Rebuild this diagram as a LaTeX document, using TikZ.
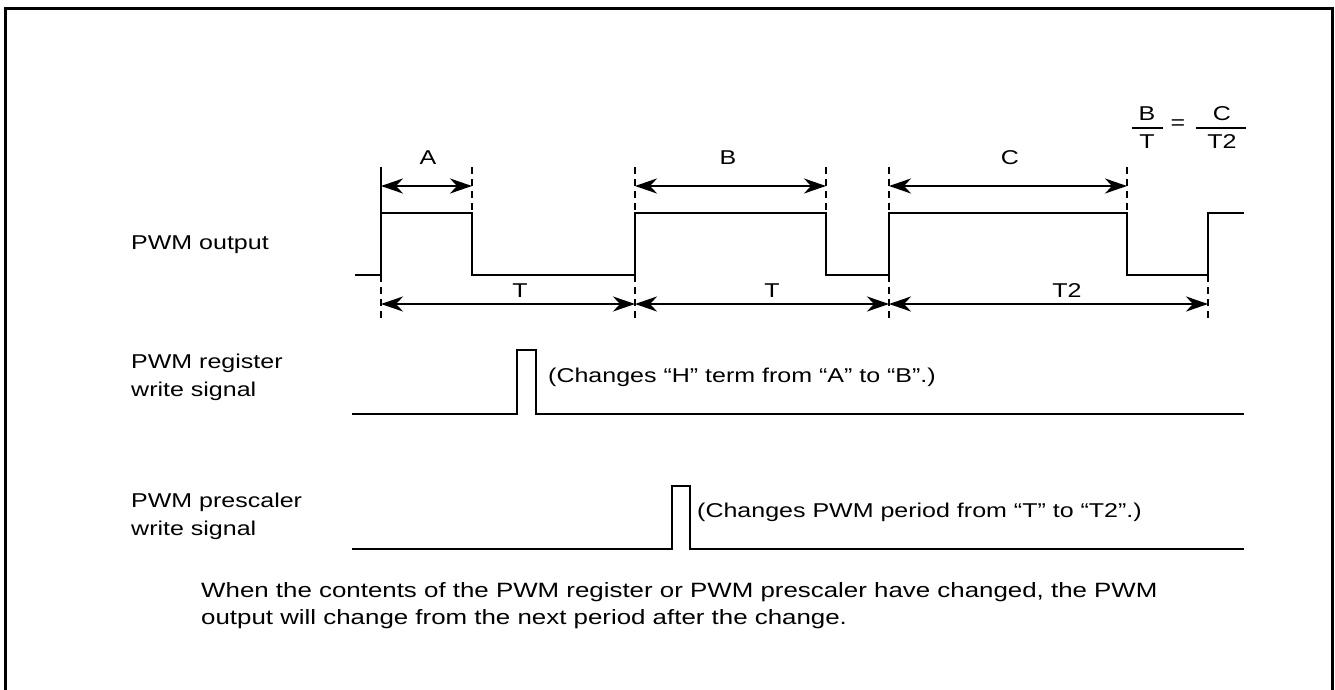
\documentclass[tikz,border=0pt]{standalone}
\usepackage{fontspec}
\setmainfont{Liberation Sans}[FakeStretch=1.25]
\usetikzlibrary{arrows.meta}
\begin{document}
\begin{tikzpicture}[x=1pt,y=-1pt,
  sig/.style={line width=2.6pt,line join=miter},
  guide/.style={line width=2.6pt,dash pattern=on 7pt off 5pt},
  dim/.style={line width=2.6pt,{Stealth[length=22pt,width=15pt,inset=7pt]}-{Stealth[length=22pt,width=15pt,inset=7pt]}},
  lbl/.style={inner sep=0pt,anchor=base west,font=\fontsize{20}{28}\selectfont,align=left},
  mid/.style={inner sep=0pt,anchor=base,font=\fontsize{20}{28}\selectfont}]
\useasboundingbox (0,0) rectangle (1335,690);
\draw[line width=3pt] (5,690) -- (5,9) -- (1332,9) -- (1332,690);

% edge x positions
\coordinate (e0) at (381,0);
\coordinate (e1) at (472,0);
\coordinate (e2) at (635,0);
\coordinate (e3) at (826,0);
\coordinate (e4) at (889,0);
\coordinate (e5) at (1127,0);
\coordinate (e6) at (1208,0);

% PWM output waveform
\draw[sig] (355,275) -- (381,275) -- (381,213) -- (472,213) -- (472,275)
  -- (635,275) -- (635,213) -- (826,213) -- (826,275) -- (889,275)
  -- (889,213) -- (1127,213) -- (1127,275) -- (1208,275) -- (1208,213) -- (1244,213);

% guide lines
\draw[sig] (e0 |- 0,167) -- (e0 |- 0,275);
\draw[guide] (e0 |- 0,275) -- (e0 |- 0,322);
\draw[guide] (e1 |- 0,167) -- (e1 |- 0,213);
\draw[guide] (e2 |- 0,167) -- (e2 |- 0,322);
\draw[guide] (e3 |- 0,167) -- (e3 |- 0,213);
\draw[guide] (e4 |- 0,167) -- (e4 |- 0,322);
\draw[guide] (e5 |- 0,167) -- (e5 |- 0,213);
\draw[guide] (e6 |- 0,275) -- (e6 |- 0,322);

% dimension arrows
\draw[dim] (e0 |- 0,186) -- (e1 |- 0,186);
\draw[dim] (e2 |- 0,186) -- (e3 |- 0,186);
\draw[dim] (e4 |- 0,186) -- (e5 |- 0,186);
\draw[dim] (e0 |- 0,304) -- (e2 |- 0,304);
\draw[dim] (e2 |- 0,304) -- (e4 |- 0,304);
\draw[dim] (e4 |- 0,304) -- (e6 |- 0,304);

\node[mid] (lA) at (428,164) {A};
\node[mid] (lB) at (728,164) {B};
\node[mid] (lC) at (1010,164) {C};
\node[mid] (lT1) at (520,297) {T};
\node[mid] (lT2) at (772,297) {T};
\node[mid] (lT3) at (1067,297) {T2};

% formula
\node[mid] (fB) at (1147,121) {B};
\node[mid] (fT) at (1147,149) {T};
\draw[line width=2pt] (1132,128) -- (1163,128);
\node[mid] (feq) at (1178,130) {=};
\node[mid] (fC) at (1222,121) {C};
\node[mid] (fT2) at (1222,149) {T2};
\draw[line width=2pt] (1196,128) -- (1246,128);

% left labels (base = last line)
\node[lbl] (n1) at (131,249) {PWM output};
\node[lbl] (n2) at (131,396) {PWM register\\write signal};
\node[lbl] (n3) at (131,535) {PWM prescaler\\write signal};

% register write signal
\draw[sig] (352,414) -- (517,414) -- (517,350) -- (536,350) -- (536,414) -- (1244,414);
\node[lbl] (t1) at (548,382) {(Changes “H” term from “A” to “B”.)};

% prescaler write signal
\draw[sig] (352,549) -- (672,549) -- (672,486) -- (690,486) -- (690,549) -- (1244,549);
\node[lbl] (t2) at (697,517) {(Changes PWM period from “T” to “T2”.)};

% note
\node[lbl,font=\fontsize{20.7}{27}\selectfont] (note) at (201,624) {When the contents of the PWM register or PWM prescaler have changed, the PWM\\output will change from the next period after the change.};
\end{tikzpicture}
\end{document}
